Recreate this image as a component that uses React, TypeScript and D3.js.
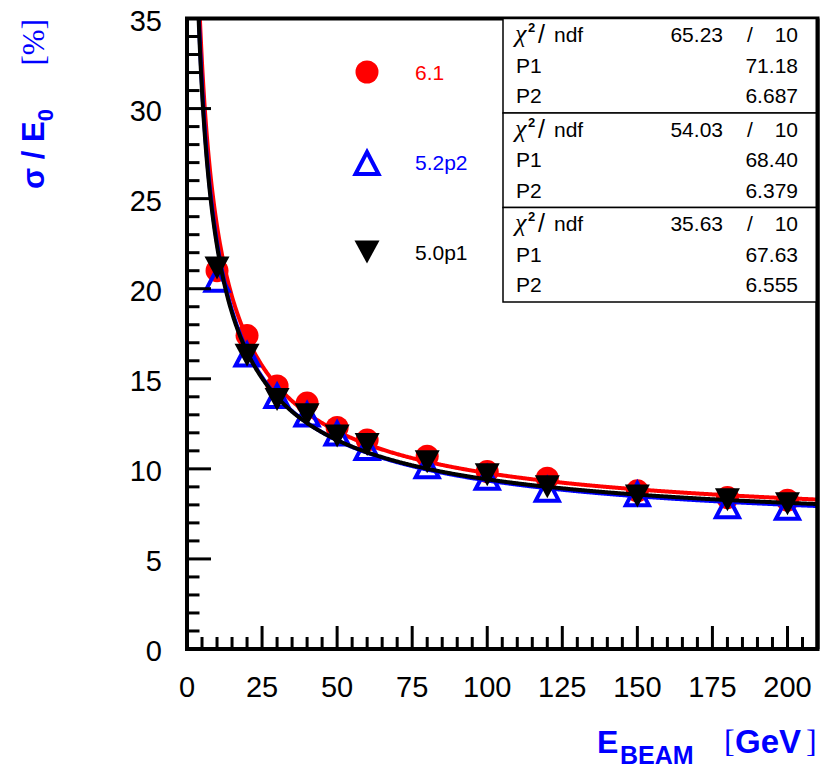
import React from "react";
import * as d3 from "d3";

// Beam energies (GeV) at which the resolution was measured
const energies = [10, 20, 30, 40, 50, 60, 80, 100, 120, 150, 180, 200];

// Relative energy resolution sigma/E0 (%) for each software version
const res61 = [21.0, 17.4, 14.6, 13.65, 12.3, 11.6, 10.7, 9.85, 9.48, 8.78, 8.41, 8.26];
const res52p2 = [20.55, 16.4, 14.1, 13.07, 12.02, 11.22, 10.2, 9.56, 8.9, 8.65, 7.98, 7.89];
const res50p1 = [21.15, 16.3, 13.85, 13.0, 11.82, 11.35, 10.4, 9.67, 9.0, 8.5, 8.28, 8.06];

// Legend labels and fit results: sigma/E = sqrt(P1^2/E + P2^2)
const versions = ["6.1", "5.2p2", "5.0p1"];
const fitChi2 = [65.23, 54.03, 35.63];
const fitNdf = [10, 10, 10];
const fitP1 = [71.18, 68.4, 67.63];
const fitP2 = [6.687, 6.379, 6.555];

const xTickLabels = [0, 25, 50, 75, 100, 125, 150, 175, 200];
const yTickLabels = [0, 5, 10, 15, 20, 25, 30, 35];

const SANS = "'Liberation Sans', Arial, Helvetica, sans-serif";
const SERIF = "'Liberation Serif', 'Times New Roman', serif";
const BLUE = "#0000ff";
const RED = "#ff0000";

const W = 831;
const H = 768;
const X0 = 187;
const X1 = 817.5;
const Y0 = 18.5;
const Y1 = 649;

const x = d3.scaleLinear().domain([0, 210]).range([X0, X1]);
const y = d3.scaleLinear().domain([0, 35]).range([Y1, Y0]);

type Marker = "circle" | "triangle" | "invtriangle";

const seriesList: { values: number[]; color: string; marker: Marker; fit: number }[] = [
  { values: res61, color: RED, marker: "circle", fit: 0 },
  { values: res52p2, color: BLUE, marker: "triangle", fit: 1 },
  { values: res50p1, color: "#000000", marker: "invtriangle", fit: 2 },
];

function MarkerShape({ kind, cx, cy, color }: { kind: Marker; cx: number; cy: number; color: string }) {
  if (kind === "circle") return <circle cx={cx} cy={cy} r={11.5} fill={color} />;
  if (kind === "triangle")
    return (
      <path
        d={`M${cx},${cy - 10} L${cx + 11.5},${cy + 12} L${cx - 11.5},${cy + 12} Z`}
        fill="none"
        stroke={color}
        strokeWidth={4}
        strokeLinejoin="miter"
      />
    );
  return (
    <path
      d={`M${cx - 12.5},${cy - 11.5} L${cx + 12.5},${cy - 11.5} L${cx},${cy + 11.5} Z`}
      fill={color}
    />
  );
}

// Fitted resolution curve, sampled densely over the energy range
function fitPath(i: number) {
  const es = d3.range(2, 210.01, 0.25);
  const gen = d3
    .line<number>()
    .x((e) => x(e))
    .y((e) => y(Math.sqrt((fitP1[i] * fitP1[i]) / e + fitP2[i] * fitP2[i])))
    .curve(d3.curveLinear);
  return gen(es) || "";
}

export default function App() {
  const xMinor = d3.range(0, 210, 5);
  const yMinor = d3.range(0, 36, 1);
  const boxTop = Y0;
  const boxH = (302 - Y0) / 3;
  const boxLeft = 503;

  return (
    <svg
      width={W}
      height={H}
      viewBox={`0 0 ${W} ${H}`}
      style={{ position: "absolute", left: 0, top: 0, background: "#fff" }}
    >
      <rect x={0} y={0} width={W} height={H} fill="#fff" />
      <defs>
        <clipPath id="plotArea">
          <rect x={X0} y={Y0} width={X1 - X0} height={Y1 - Y0} />
        </clipPath>
      </defs>

      {/* fitted curves and data markers */}
      <g clipPath="url(#plotArea)">
        {seriesList.map((s, si) => (
          <g key={si}>
            <path d={fitPath(s.fit)} fill="none" stroke={s.color} strokeWidth={4} />
            {s.values.map((v, k) => (
              <MarkerShape key={k} kind={s.marker} cx={x(energies[k])} cy={y(v)} color={s.color} />
            ))}
          </g>
        ))}
      </g>

      {/* axis ticks, drawn inward */}
      <g stroke="#000" strokeWidth={3}>
        {xMinor.map((t) => (
          <line key={"xt" + t} x1={x(t)} x2={x(t)} y1={Y1} y2={Y1 - (t % 25 === 0 ? 23 : 12)} />
        ))}
        {yMinor.map((t) => (
          <line key={"yt" + t} x1={X0} x2={X0 + (t % 5 === 0 ? 24 : 12.5)} y1={y(t)} y2={y(t)} />
        ))}
      </g>

      {/* frame */}
      <rect x={X0} y={Y0} width={X1 - X0} height={Y1 - Y0} fill="none" stroke="#000" strokeWidth={4} />

      {/* tick labels */}
      <g fontFamily={SANS} fontSize={29} fill="#000">
        {xTickLabels.map((t) => (
          <text key={"xl" + t} x={x(t)} y={696.5} textAnchor="middle">
            {t}
          </text>
        ))}
        {yTickLabels.map((t) => (
          <text key={"yl" + t} x={162} y={y(t) + 12} textAnchor="end">
            {t}
          </text>
        ))}
      </g>

      {/* x axis title */}
      <g fill={BLUE}>
        <text x={597} y={753} fontFamily={SANS} fontWeight="bold" fontSize={32}>
          E
        </text>
        <text x={620} y={763.5} fontFamily={SANS} fontWeight="bold" fontSize={25}>
          BEAM
        </text>
        <text x={724} y={752} fontFamily={SERIF} fontSize={32}>
          [
        </text>
        <text x={735} y={753} fontFamily={SANS} fontWeight="bold" fontSize={33}>
          GeV
        </text>
        <text x={806} y={752} fontFamily={SERIF} fontSize={32}>
          ]
        </text>
      </g>

      {/* y axis title */}
      <g fill={BLUE}>
        <text transform="translate(43.5,189) rotate(-90)" fontFamily={SANS} fontWeight="bold" fontSize={31}>
          σ / E
          <tspan fontSize={22} dy={9}>
            0
          </tspan>
        </text>
        <text transform="translate(43.5,19) rotate(-90)" textAnchor="end" fontFamily={SERIF} fontSize={31}>
          [%]
        </text>
      </g>

      {/* legend */}
      <g fontFamily={SANS} fontSize={21}>
        {seriesList.map((s, i) => {
          const cy = 72 + i * 90;
          return (
            <g key={"lg" + i}>
              <MarkerShape kind={s.marker} cx={367} cy={cy} color={s.color} />
              <text x={415} y={cy + 7.5} fill={s.color}>
                {versions[i]}
              </text>
            </g>
          );
        })}
      </g>

      {/* fit statistics boxes */}
      <g fontFamily={SANS} fontSize={21} fill="#000">
        {fitChi2.map((c, i) => {
          const top = boxTop + i * boxH;
          const row = (r: number) => top + 16 + r * 30.5 + 7.5;
          return (
            <g key={"st" + i}>
              <rect x={boxLeft} y={top} width={X1 - boxLeft} height={boxH} fill="#fff" stroke="#000" strokeWidth={1.5} />
              <text x={515} y={row(0)} fontFamily={SERIF} fontStyle="italic" fontSize={26}>
                χ
              </text>
              <text x={528} y={row(0) - 10} fontSize={13} fontWeight="bold">
                2
              </text>
              <text x={538} y={row(0) + 1} fontSize={25}>
                /
              </text>
              <text x={554} y={row(0)}>
                ndf
              </text>
              <text x={723} y={row(0)} textAnchor="end">
                {c.toFixed(2)}
              </text>
              <text x={750} y={row(0)} textAnchor="middle">
                /
              </text>
              <text x={798} y={row(0)} textAnchor="end">
                {fitNdf[i]}
              </text>
              <text x={516} y={row(1)}>
                P1
              </text>
              <text x={798} y={row(1)} textAnchor="end">
                {fitP1[i].toFixed(2)}
              </text>
              <text x={516} y={row(2)}>
                P2
              </text>
              <text x={798} y={row(2)} textAnchor="end">
                {fitP2[i].toFixed(3)}
              </text>
            </g>
          );
        })}
      </g>
      <line x1={X1} x2={X1} y1={Y0} y2={Y1} stroke="#000" strokeWidth={4} />
    </svg>
  );
}
